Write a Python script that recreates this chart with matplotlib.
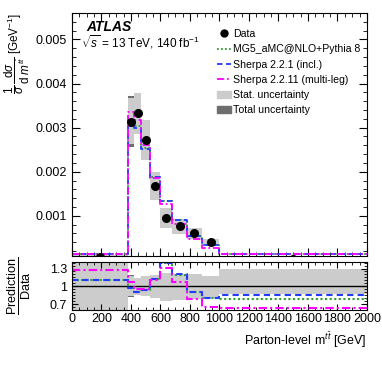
import numpy as np
import matplotlib
matplotlib.use("Agg")
import matplotlib.pyplot as plt
from matplotlib.ticker import MultipleLocator
from matplotlib.patches import Patch
from matplotlib.lines import Line2D

plt.rcParams['font.family'] = ['Liberation Sans', 'DejaVu Sans']
plt.rcParams['mathtext.fontset'] = 'custom'
plt.rcParams['mathtext.rm'] = 'Liberation Sans'
plt.rcParams['mathtext.it'] = 'Liberation Sans:italic'

# bins in m_tt [GeV]
edges = [0, 380, 420, 470, 530, 600, 680, 780, 880, 1000, 2000]
# normalised data cross section [1/GeV]
data = [0.00006, 0.00313, 0.00333, 0.00271, 0.00167, 0.00096, 0.00076, 0.00060, 0.00041, 0.00002]
# prediction / data
ratio_mg5 = [1.10, 0.97, 0.91, 0.94, 1.12, 1.39, 1.19, 0.90, 0.80, 0.79]
ratio_s221 = [1.10, 0.97, 0.90, 0.93, 1.13, 1.40, 1.20, 0.91, 0.81, 0.86]
ratio_s2211 = [1.28, 1.07, 0.95, 0.96, 1.11, 1.31, 1.08, 0.78, 0.65, 0.64]
# relative uncertainties (lo, hi)
stat_lo = [0.0, 0.84, 0.86, 0.84, 0.81, 0.76, 0.77, 0.78, 0.80, 0.87]
stat_hi = [1.9, 1.17, 1.14, 1.17, 1.19, 1.22, 1.21, 1.21, 1.17, 1.29]
tot_lo = [0.0, 0.82, 0.86, 0.84, 0.81, 0.76, 0.77, 0.78, 0.80, 0.87]
tot_hi = [1.9, 1.19, 1.14, 1.17, 1.19, 1.22, 1.21, 1.21, 1.17, 1.29]

edges = np.array(edges, dtype=float)
data = np.array(data)
centers = 0.5 * (edges[:-1] + edges[1:])
ymin, ymax = 0.00009, 0.0056

c_mg5 = '#2ca02c'
c_s221 = '#1f3cff'
c_s2211 = '#ff00ff'
c_stat = '#cccccc'
c_tot = '#6e6e6e'
ls_mg5 = (0, (1, 1.2))
ls_s221 = (0, (3, 2))
ls_s2211 = (0, (4, 1.5, 1, 1.5))

fig = plt.figure(figsize=(3.82, 3.67), dpi=100)
ax = fig.add_axes([0.1885, 0.3025, 0.772, 0.662])
rx = fig.add_axes([0.1885, 0.1553, 0.772, 0.1308])


def steps(vals):
    return np.append(vals, vals[-1])


def band(a, lo, hi, color, scale):
    for i in range(len(lo)):
        a.fill_between([edges[i], edges[i + 1]], lo[i] * scale[i], hi[i] * scale[i],
                       color=color, lw=0)


ones = np.ones(len(data))
# main panel (histograms below the axis floor are drawn at the floor, like ROOT)
band(ax, tot_lo, tot_hi, c_tot, data)
band(ax, stat_lo, stat_hi, c_stat, data)
floor = ymin + 0.00004
ax.step(edges, steps(np.maximum(data * ratio_mg5, floor)), where='post', color=c_mg5, ls=ls_mg5, lw=1.3)
ax.step(edges, steps(np.maximum(data * ratio_s221, floor)), where='post', color=c_s221, ls=ls_s221, lw=1.3)
ax.step(edges, steps(np.maximum(data * ratio_s2211, floor)), where='post', color=c_s2211, ls=ls_s2211, lw=1.3)
ax.plot(centers, data, 'o', color='black', ms=5.5, zorder=5)

ax.set_xlim(0, 2000)
ax.set_ylim(ymin, ymax)
ax.xaxis.set_major_locator(MultipleLocator(200))
ax.xaxis.set_minor_locator(MultipleLocator(50))
ax.yaxis.set_minor_locator(MultipleLocator(0.0002))
ax.tick_params(labelbottom=False)
ax.set_yticks([0.001, 0.002, 0.003, 0.004, 0.005])
ax.set_yticklabels(['0.001', '0.002', '0.003', '0.004', '0.005'])
ax.set_ylabel(r'$\dfrac{1}{\sigma}\,\dfrac{\mathrm{d}\sigma}{\mathrm{d}\ m^{t\bar{t}}}$ [GeV$^{-1}$]',
              fontsize=8.5, y=1.0, ha='right', labelpad=3)

ax.text(0.05, 0.925, 'ATLAS', transform=ax.transAxes, fontsize=10,
        fontweight='bold', style='italic')
ax.text(0.03, 0.86, r'$\sqrt{s}$ = 13 TeV, 140 fb$^{-1}$', transform=ax.transAxes, fontsize=8.5)

handles = [
    Line2D([], [], marker='o', color='black', ls='none', ms=5),
    Line2D([], [], color=c_mg5, ls=ls_mg5, lw=1.3),
    Line2D([], [], color=c_s221, ls=ls_s221, lw=1.3),
    Line2D([], [], color=c_s2211, ls=ls_s2211, lw=1.3),
    Patch(color=c_stat),
    Patch(color=c_tot),
]
labels = ['Data', 'MG5_aMC@NLO+Pythia 8', 'Sherpa 2.2.1 (incl.)',
          'Sherpa 2.2.11 (multi-leg)', 'Stat. uncertainty', 'Total uncertainty']
ax.legend(handles, labels, loc='upper right', bbox_to_anchor=(1.0, 0.96), frameon=False,
          fontsize=7.6, handlelength=1.3, handletextpad=0.2, labelspacing=0.5,
          borderaxespad=0.2)

# ratio panel
band(rx, tot_lo, tot_hi, c_tot, ones)
band(rx, stat_lo, stat_hi, c_stat, ones)
rx.axhline(1.0, color='black', lw=1.0)
rx.step(edges, steps(np.array(ratio_mg5)), where='post', color=c_mg5, ls=ls_mg5, lw=1.5)
rx.step(edges, steps(np.array(ratio_s221)), where='post', color=c_s221, ls=ls_s221, lw=1.5)
rx.step(edges, steps(np.array(ratio_s2211)), where='post', color=c_s2211, ls=ls_s2211, lw=1.5)
rx.set_xlim(0, 2000)
rx.set_ylim(0.6, 1.41)
rx.set_yticks([0.7, 1.0, 1.3])
rx.set_yticklabels(['0.7', '1', '1.3'])
rx.yaxis.set_minor_locator(MultipleLocator(0.05))
rx.xaxis.set_major_locator(MultipleLocator(200))
rx.xaxis.set_minor_locator(MultipleLocator(50))
rx.set_ylabel(r'$\frac{\mathrm{Prediction}}{\mathrm{Data}}$', fontsize=13, labelpad=12)
rx.set_xlabel(r'Parton-level m$^{t\bar{t}}$ [GeV]', fontsize=9, x=1.0, ha='right', labelpad=4)

for a in (ax, rx):
    a.tick_params(which='both', direction='in', top=True, right=True, labelsize=9)
    a.tick_params(which='major', length=6, width=0.8)
    a.tick_params(which='minor', length=3, width=0.6)
    for s in a.spines.values():
        s.set_linewidth(0.8)
rx.tick_params(which='major', length=4)
rx.tick_params(which='minor', length=2)
rx.tick_params(axis='x', pad=2)

fig.savefig('out.png', dpi=100)
